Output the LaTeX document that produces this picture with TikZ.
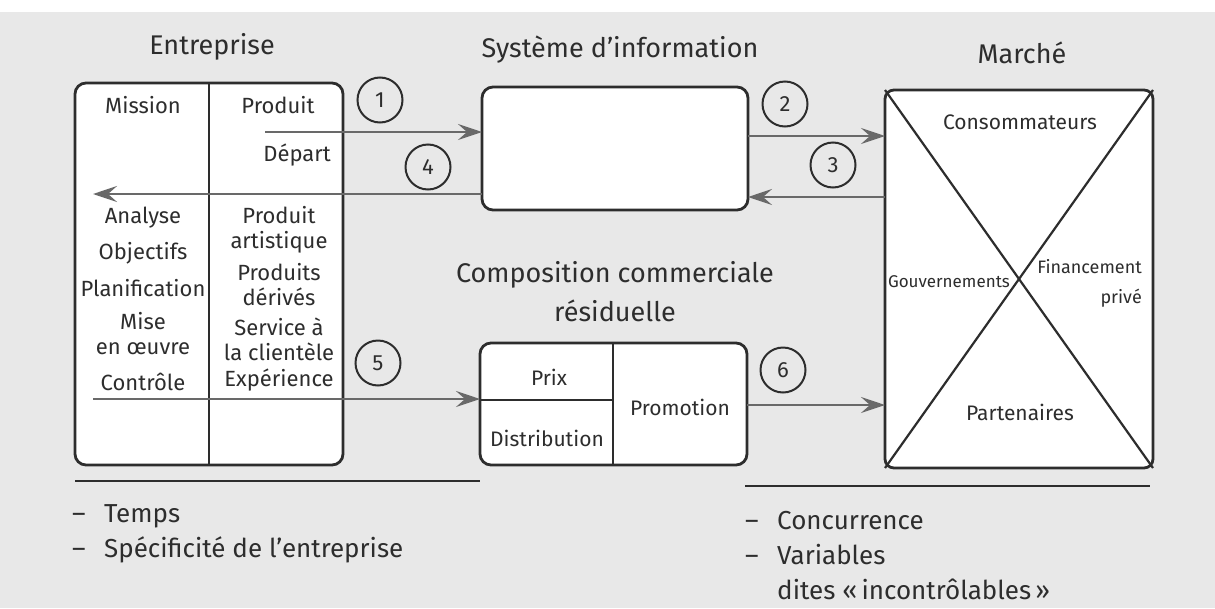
\documentclass[tikz,border=0pt]{standalone}
\usepackage{fontspec}
\setmainfont{Fira Sans}
\usetikzlibrary{arrows.meta,calc}
\definecolor{bg}{RGB}{232,232,232}
\definecolor{ink}{RGB}{45,45,45}
\definecolor{arr}{RGB}{105,105,105}
\begin{document}
\begin{tikzpicture}[x=1pt,y=-1pt,
  box/.style={draw=ink, line width=2.8pt, fill=white, rounded corners=11pt, inner sep=0pt, outer sep=0pt},
  divline/.style={draw=ink, line width=2.4pt},
  flow/.style={draw=arr, line width=2.6pt, -{Stealth[length=24pt,width=16pt,inset=9pt]}},
  num/.style={circle, draw=ink, line width=2pt, minimum size=45pt, inner sep=0pt, text=ink, font=\fontsize{22}{22}\selectfont},
  title/.style={text=ink, inner sep=0pt, align=center, font=\fontsize{27}{39}\selectfont},
  cell/.style={text=ink, inner sep=0pt, align=center, font=\fontsize{22}{25}\selectfont},
  mk/.style={text=ink, inner sep=0pt, font=\fontsize{21}{25}\selectfont},
  note/.style={text=ink, inner sep=0pt, anchor=west, align=left, font=\fontsize{26}{35}\selectfont}]
\useasboundingbox (0,0) rectangle (1215,608);
\fill[bg] (0,0) rectangle (1215,608);
\fill[white] (0,0) rectangle (1215,12);

% titles
\node[title] (tEnt) at (212,47) {Entreprise};
\node[title] (tSI) at (620,50) {Système d’information};
\node[title] (tMk) at (1022,53) {Marché};

% Entreprise box
\node[box, anchor=north west, minimum width=268pt, minimum height=382pt] (ent) at (75,83) {};
\draw[divline] (209,0 |- ent.north) -- (209,0 |- ent.south);

% Systeme d'information
\node[box, anchor=north west, minimum width=266pt, minimum height=123pt] (si) at (482,87) {};

% Marche
\node[box, anchor=north west, minimum width=268pt, minimum height=378pt, rounded corners=9pt] (mk) at (885,90) {};
\draw[divline, line width=2.2pt] (mk.north west) -- (mk.south east);
\draw[divline, line width=2.2pt] (mk.north east) -- (mk.south west);

% Composition commerciale
\node[box, anchor=north west, minimum width=267pt, minimum height=122pt] (cc) at (480,343) {};
\draw[divline] (613,0 |- cc.north) -- (613,0 |- cc.south);
\draw[divline] (cc.west |- 0,400) -- (613,400);

% arrows
\coordinate (a1s) at (265,132);
\draw[flow] (a1s) -- (a1s -| si.west);
\coordinate (a4e) at (93,194);
\draw[flow] (si.west |- a4e) -- (a4e);
\draw[flow] (si.east |- 0,136) -- (mk.west |- 0,136);
\draw[flow] (mk.west |- 0,197) -- (si.east |- 0,197);
\coordinate (a5s) at (93,399);
\draw[flow] (a5s) -- (a5s -| cc.west);
\draw[flow] (cc.east |- 0,405) -- (mk.west |- 0,405);

% numbers
\node[num] (n1) at (380,100) {1};
\node[num] (n4) at (428,167) {4};
\node[num] (n2) at (785,104) {2};
\node[num] (n3) at (833,165) {3};
\node[num] (n5) at (378,363) {5};
\node[num] (n6) at (783,370) {6};

% Entreprise texts
\node[cell] (mission) at (143,105) {Mission};
\node[cell] (produit) at (278,105) {Produit};
\node[cell, anchor=east] (depart) at (331,155) {Départ};
\node[cell] (analyse) at (143,218) {Analyse};
\node[cell] (objectifs) at (143,253) {Objectifs};
\node[cell] (planif) at (143,288) {Planification};
\node[cell] (mise) at (143,334) {Mise\\en œuvre};
\node[cell] (controle) at (143,382) {Contrôle};
\node[cell] (prodart) at (279,230) {Produit\\artistique};
\node[cell] (proddev) at (279,285) {Produits\\dérivés};
\node[cell] (service) at (279,339) {Service à\\la clientèle};
\node[cell] (experience) at (279,380) {Expérience};

% Marche texts
\node[mk] (conso) at (1020,122) {Consommateurs};
\node[mk, anchor=east, font=\fontsize{17}{20}\selectfont] (gouv) at (1010,282) {Gouvernements};
\node[mk, anchor=east, align=right, font=\fontsize{18}{30}\selectfont] (fin) at (1142,283) {Financement\\privé};
\node[mk] (part) at (1020,412) {Partenaires};

% Composition texts
\node[title] (tCC) at (615,292) {Composition commerciale\\résiduelle};
\node[mk] (prix) at (549,377) {Prix};
\node[mk] (distrib) at (547,438) {Distribution};
\node[mk] (promo) at (680,407) {Promotion};

% bottom notes
\node[note] (lnote) at (72,534) {\makebox[32pt][l]{–}Temps\\\makebox[32pt][l]{–}Spécificité de l’entreprise};
\node[note] (rnote) at (745,556) {\makebox[32pt][l]{–}Concurrence\\\makebox[32pt][l]{–}Variables\\\hspace*{32pt}dites «\,incontrôlables\,»};
\draw[divline] (ent.south west |- 0,481) -- (480,481);
\draw[divline] (745,486) -- (1150,486);
\end{tikzpicture}
\end{document}
